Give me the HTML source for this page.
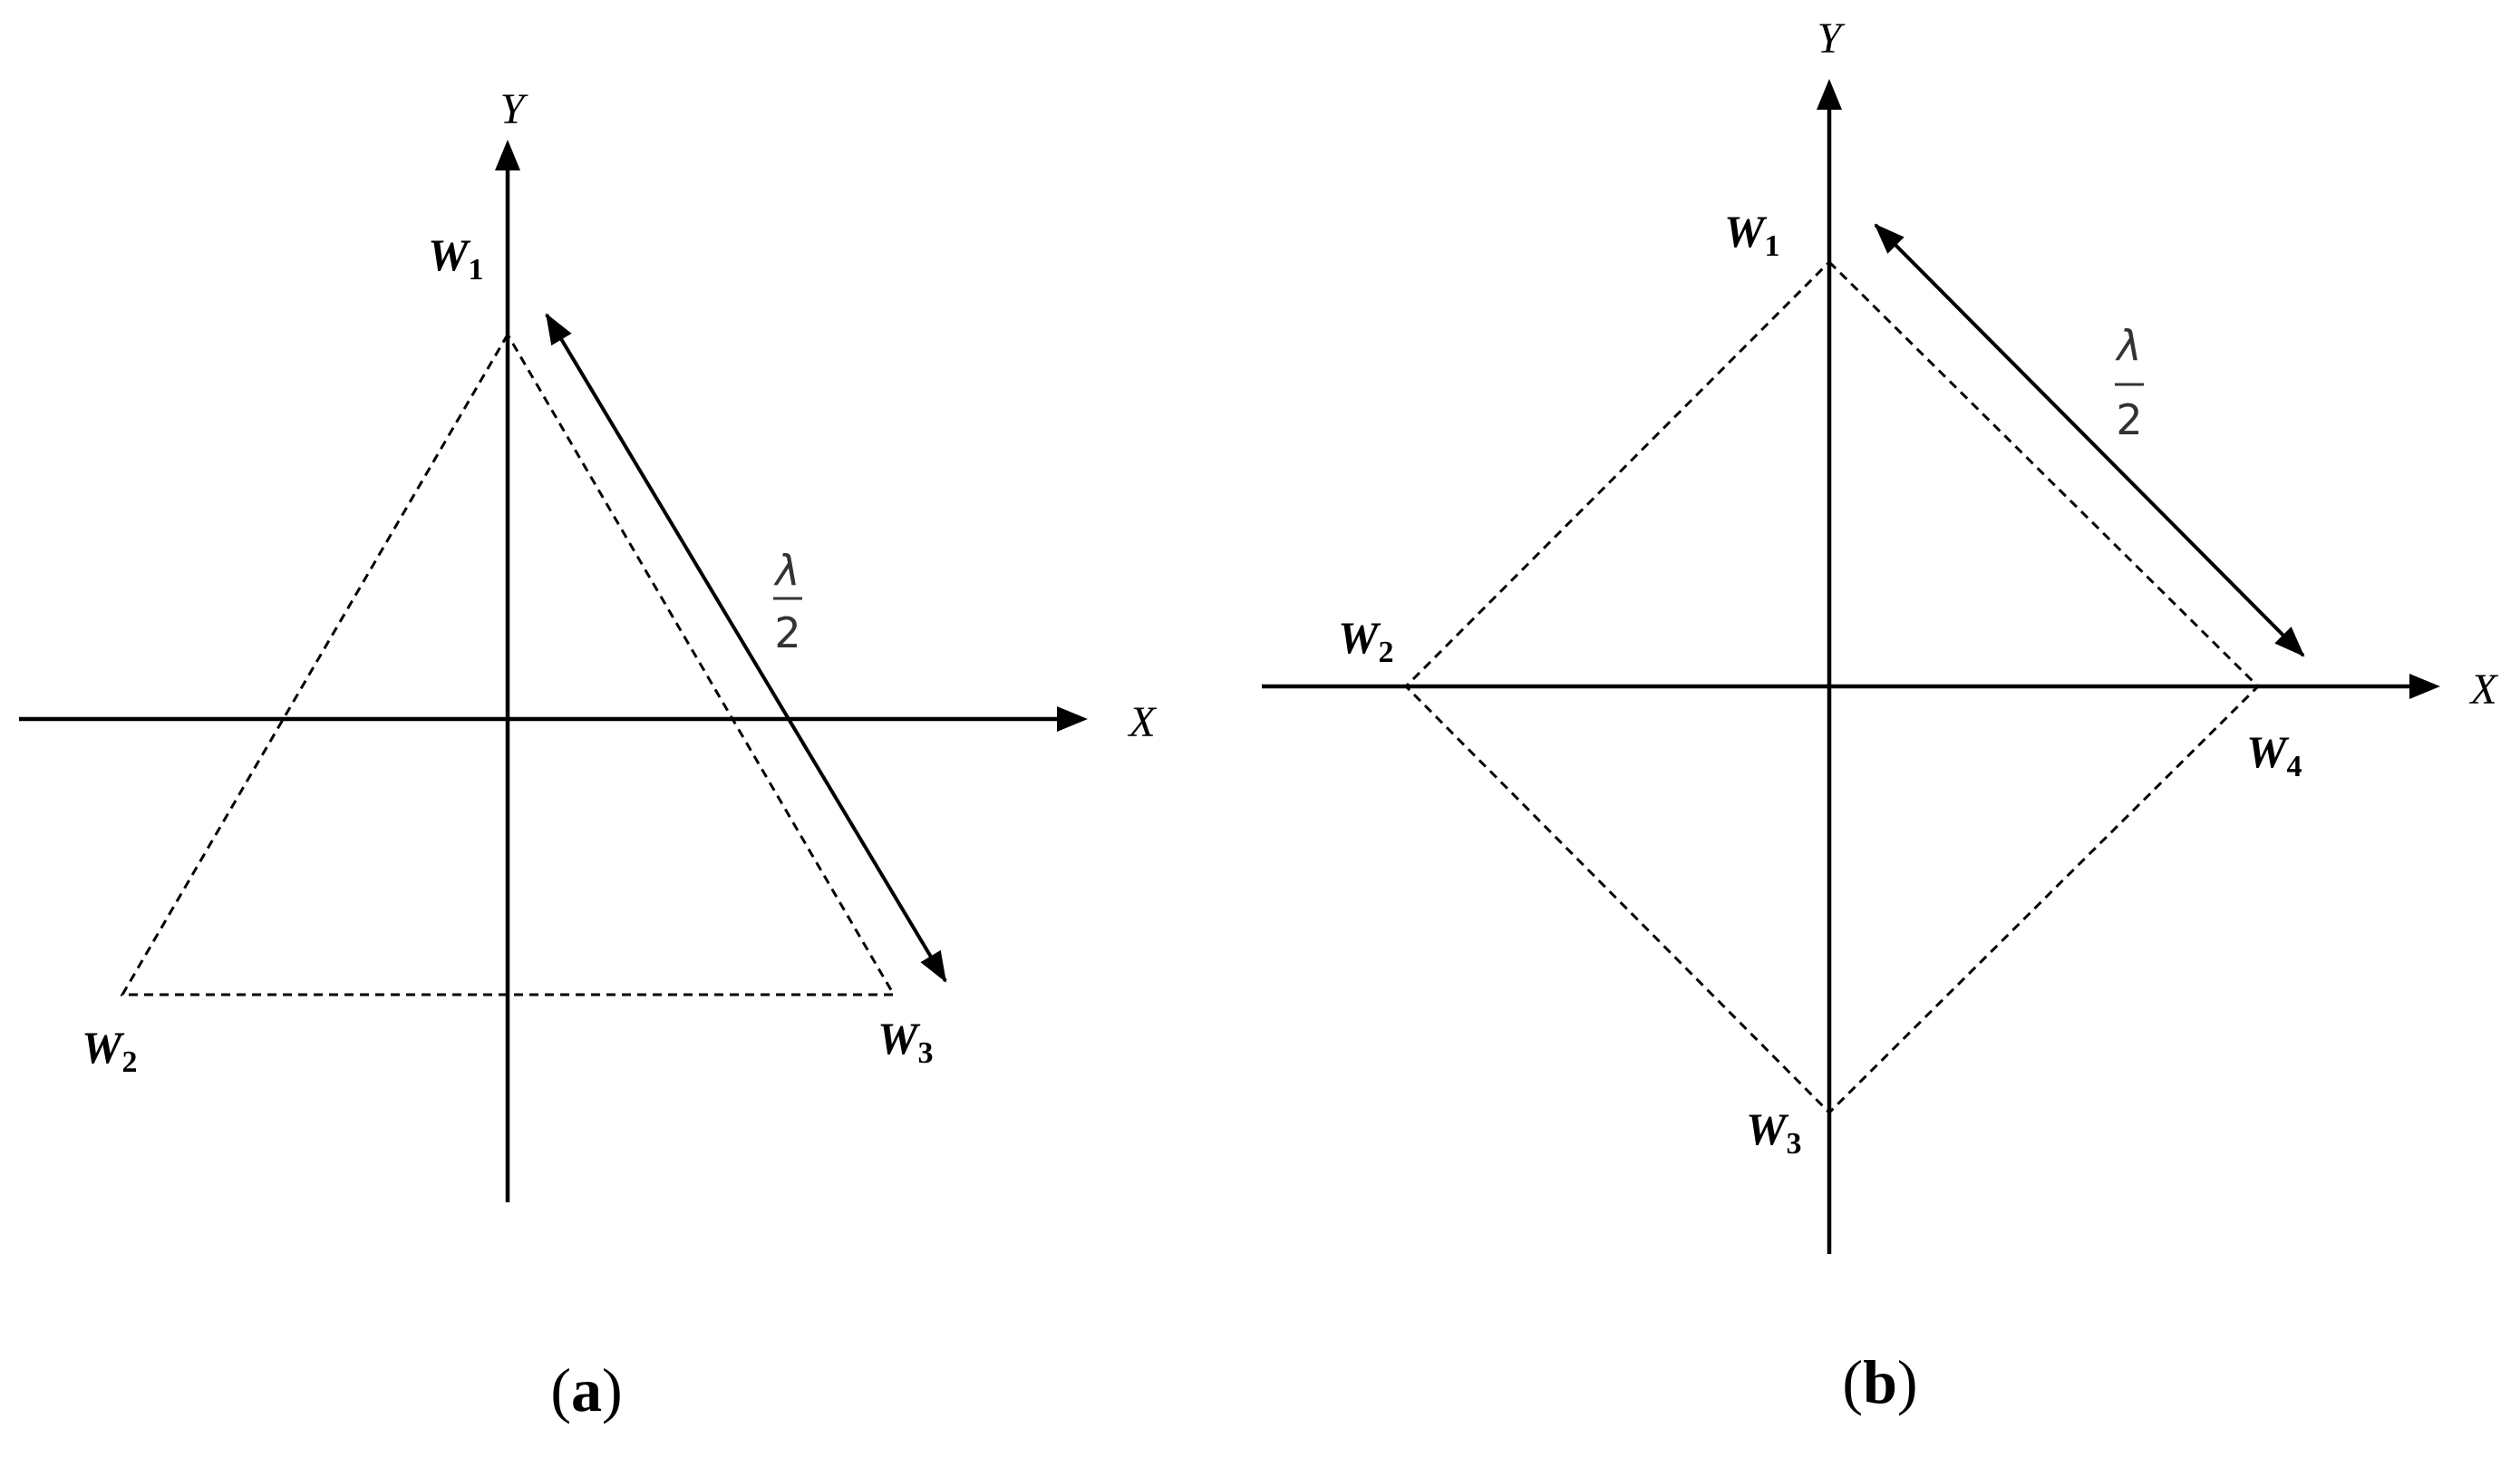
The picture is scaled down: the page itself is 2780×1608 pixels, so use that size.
<!DOCTYPE html>
<html><head><style>html,body{margin:0;padding:0;background:#fff}svg{display:block}</style></head>
<body>
<svg width="2780" height="1608" viewBox="0 0 2780 1608" xmlns="http://www.w3.org/2000/svg">
<defs>
<marker id="a2" markerWidth="34" markerHeight="26" refX="32" refY="13" orient="auto-start-reverse" markerUnits="userSpaceOnUse">
<path d="M0,0 L34,13 L0,26 Z" fill="#000"/></marker>
</defs>
<g stroke="#000" fill="none">
<line x1="560" y1="1326" x2="560" y2="185" stroke-width="4.5"/>
<path d="M560,154 L546,188 L574,188 Z" fill="#000" stroke="none"/>
<line x1="21" y1="793" x2="1168" y2="793" stroke-width="4.5"/>
<path d="M1200,793 L1166,779 L1166,807 Z" fill="#000" stroke="none"/>
<path d="M560,369 L135,1097 L986,1097 Z" stroke-width="3" stroke-dasharray="10,7"/>
<line x1="603" y1="347" x2="1043" y2="1082" stroke-width="4" marker-start="url(#a2)" marker-end="url(#a2)"/>
<line x1="2018" y1="1383" x2="2018" y2="120" stroke-width="4.5"/>
<path d="M2018,87 L2004,121 L2032,121 Z" fill="#000" stroke="none"/>
<line x1="1392" y1="757" x2="2660" y2="757" stroke-width="4.5"/>
<path d="M2692,757 L2658,743 L2658,771 Z" fill="#000" stroke="none"/>
<path d="M2018,289 L2491,757 L2018,1227 L1551,757 Z" stroke-width="3" stroke-dasharray="10,7"/>
<line x1="2069" y1="248" x2="2541" y2="723" stroke-width="4" marker-start="url(#a2)" marker-end="url(#a2)"/>
</g>
<g font-family="Liberation Serif, serif" fill="#000">
<text x="565" y="136" font-size="48" font-style="italic" text-anchor="middle">Y</text>
<text x="1260" y="812" font-size="48" font-style="italic" text-anchor="middle">X</text>
<text x="2018" y="58" font-size="48" font-style="italic" text-anchor="middle">Y</text>
<text x="2740" y="776" font-size="48" font-style="italic" text-anchor="middle">X</text>
<g font-weight="bold" font-style="italic" font-size="50">
<text x="472" y="298">W<tspan font-size="34" font-style="normal" dy="10">1</tspan></text>
<text x="90" y="1172">W<tspan font-size="34" font-style="normal" dy="10">2</tspan></text>
<text x="968" y="1162">W<tspan font-size="34" font-style="normal" dy="10">3</tspan></text>
<text x="1902" y="272">W<tspan font-size="34" font-style="normal" dy="10">1</tspan></text>
<text x="1476" y="720">W<tspan font-size="34" font-style="normal" dy="10">2</tspan></text>
<text x="2478" y="846">W<tspan font-size="34" font-style="normal" dy="10">4</tspan></text>
<text x="1926" y="1262">W<tspan font-size="34" font-style="normal" dy="10">3</tspan></text>
</g>
<g font-size="46" text-anchor="middle" font-family="DejaVu Sans, sans-serif" fill="#333">
<text x="869" y="645" font-style="italic">λ</text>
<text x="869" y="714">2</text>
<text x="2349" y="397" font-style="italic">λ</text>
<text x="2349" y="479">2</text>
</g>
<line x1="853" y1="660" x2="885" y2="660" stroke="#333" stroke-width="3"/>
<line x1="2333" y1="424" x2="2365" y2="424" stroke="#333" stroke-width="3"/>
<text x="647" y="1556" font-size="68" text-anchor="middle">(<tspan font-weight="bold">a</tspan>)</text>
<text x="2074" y="1547" font-size="68" text-anchor="middle">(<tspan font-weight="bold">b</tspan>)</text>
</g>
</svg>
</body></html>
